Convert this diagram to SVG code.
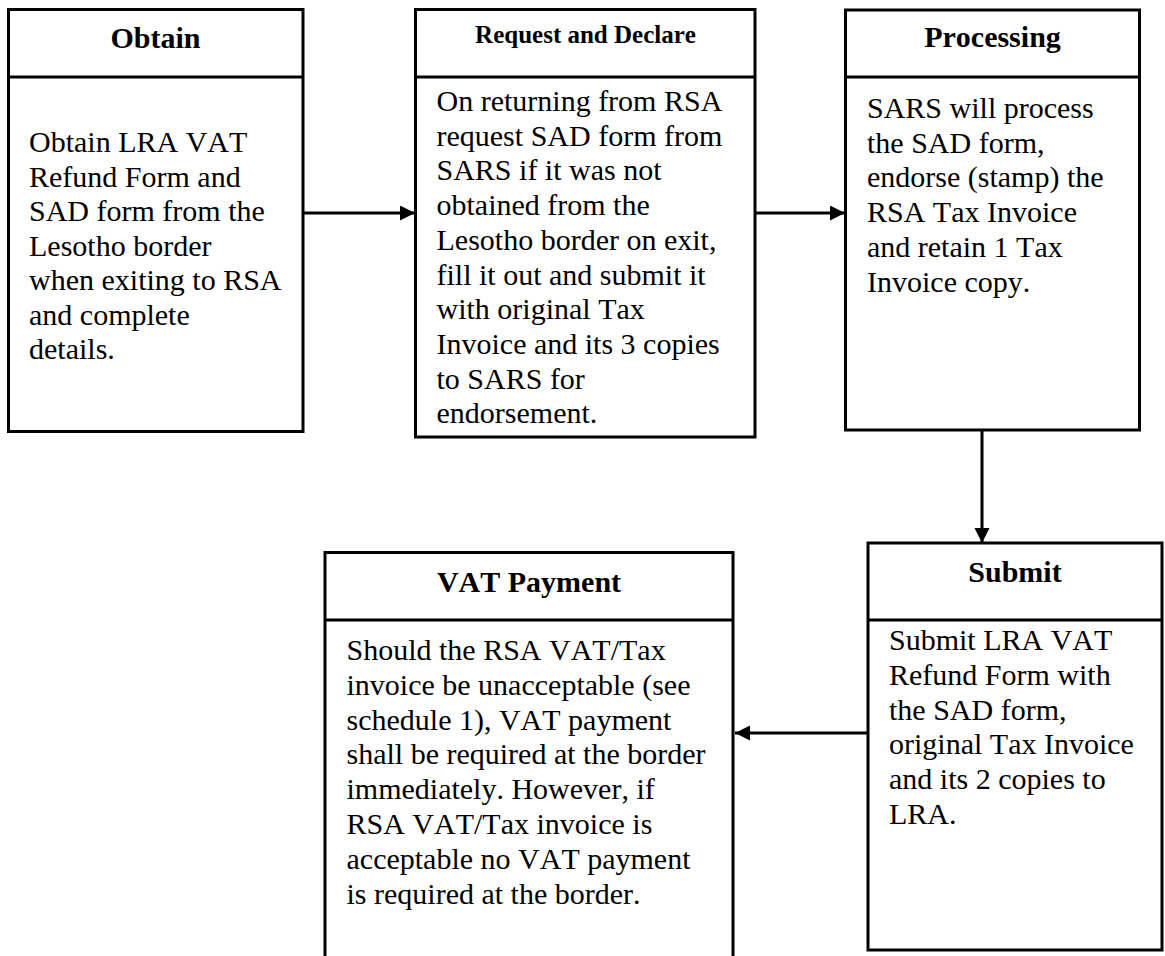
<svg xmlns="http://www.w3.org/2000/svg" width="1165" height="956" viewBox="0 0 1165 956">
<defs>
<style>
.box{fill:#fff;stroke:#000;stroke-width:3}
.div{stroke:#000;stroke-width:3}
.t{font-family:"Liberation Serif","Times New Roman",serif;font-weight:bold;font-size:30px;text-anchor:middle;fill:#000;font-kerning:none}
.b{font-family:"Liberation Serif","Times New Roman",serif;font-size:30px;fill:#000;font-kerning:none}
.c{stroke:#000;stroke-width:3;fill:none;marker-end:url(#ah)}
</style>
<marker id="ah" markerUnits="userSpaceOnUse" markerWidth="16" markerHeight="16" refX="15" refY="7.5" orient="auto">
<path d="M0,0 L15,7.5 L0,15 z" fill="#000"/>
</marker>
</defs>
<rect width="1165" height="956" fill="#fff"/>
<g id="connectors">
<line class="c" x1="303" y1="213" x2="415" y2="213"/>
<line class="c" x1="755" y1="213" x2="845" y2="213"/>
<line class="c" x1="982" y1="430" x2="982" y2="543"/>
<line class="c" x1="868" y1="733" x2="735" y2="733"/>
</g>
<g id="obtain">
<rect class="box" x="8.5" y="9.5" width="294.5" height="422"/>
<line class="div" x1="8.5" y1="77" x2="303" y2="77"/>
<text class="t" x="155.5" y="48">Obtain</text>
<text class="b" x="29" y="152">Obtain LRA VAT</text>
<text class="b" x="29" y="186.5">Refund Form and</text>
<text class="b" x="29" y="221">SAD form from the</text>
<text class="b" x="29" y="255.5">Lesotho border</text>
<text class="b" x="29" y="290">when exiting to RSA</text>
<text class="b" x="29" y="324.5">and complete</text>
<text class="b" x="29" y="359">details.</text>
</g>
<g id="request">
<rect class="box" x="415.5" y="9.5" width="339.5" height="427.5"/>
<line class="div" x1="415.5" y1="77" x2="755" y2="77"/>
<text class="t" x="585.5" y="43" style="font-size:25px">Request and Declare</text>
<text class="b" x="436.5" y="111">On returning from RSA</text>
<text class="b" x="436.5" y="145.7">request SAD form from</text>
<text class="b" x="436.5" y="180.4">SARS if it was not</text>
<text class="b" x="436.5" y="215.1">obtained from the</text>
<text class="b" x="436.5" y="249.8">Lesotho border on exit,</text>
<text class="b" x="436.5" y="284.5">fill it out and submit it</text>
<text class="b" x="436.5" y="319.2">with original Tax</text>
<text class="b" x="436.5" y="353.9">Invoice and its 3 copies</text>
<text class="b" x="436.5" y="388.6">to SARS for</text>
<text class="b" x="436.5" y="423.3">endorsement.</text>
</g>
<g id="processing">
<rect class="box" x="845.5" y="10" width="294" height="420"/>
<line class="div" x1="845.5" y1="77" x2="1139.5" y2="77"/>
<text class="t" x="992.5" y="47">Processing</text>
<text class="b" x="867" y="118">SARS will process</text>
<text class="b" x="867" y="152.7">the SAD form,</text>
<text class="b" x="867" y="187.4">endorse (stamp) the</text>
<text class="b" x="867" y="222.1">RSA Tax Invoice</text>
<text class="b" x="867" y="256.8">and retain 1 Tax</text>
<text class="b" x="867" y="291.5">Invoice copy.</text>
</g>
<g id="submit">
<rect class="box" x="868" y="543" width="294" height="407"/>
<line class="div" x1="868" y1="620" x2="1162" y2="620"/>
<text class="t" x="1015" y="582">Submit</text>
<text class="b" x="889" y="650">Submit LRA VAT</text>
<text class="b" x="889" y="684.8">Refund Form with</text>
<text class="b" x="889" y="719.6">the SAD form,</text>
<text class="b" x="889" y="754.4">original Tax Invoice</text>
<text class="b" x="889" y="789.2">and its 2 copies to</text>
<text class="b" x="889" y="824">LRA.</text>
</g>
<g id="vat-payment">
<rect class="box" x="325" y="552.5" width="408" height="420"/>
<line class="div" x1="325" y1="620" x2="733" y2="620"/>
<text class="t" x="529" y="592">VAT Payment</text>
<text class="b" x="346.5" y="660">Should the RSA VAT/Tax</text>
<text class="b" x="346.5" y="694.8">invoice be unacceptable (see</text>
<text class="b" x="346.5" y="729.6">schedule 1), VAT payment</text>
<text class="b" x="346.5" y="764.4">shall be required at the border</text>
<text class="b" x="346.5" y="799.2">immediately. However, if</text>
<text class="b" x="346.5" y="834">RSA VAT/Tax invoice is</text>
<text class="b" x="346.5" y="868.8">acceptable no VAT payment</text>
<text class="b" x="346.5" y="903.6">is required at the border.</text>
</g>
</svg>
